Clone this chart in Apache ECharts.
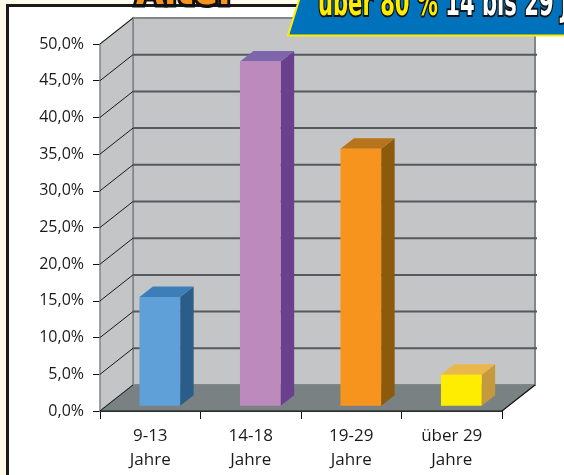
<!DOCTYPE html>
<html>
<head>
<meta charset="utf-8">
<script src="https://cdn.jsdelivr.net/npm/echarts@6/dist/echarts.min.js"></script>
<style>
html,body{margin:0;padding:0;background:#fffbea;}
#chart{width:564px;height:475px;}
</style>
</head>
<body>
<div id="chart"></div>
<script>
// ---- data ----
var categories = ['9-13\nJahre', '14-18\nJahre', '19-29\nJahre', 'über 29\nJahre'];
var values = [14.8, 46.9, 35.0, 4.2];
var yTicks = [0, 5, 10, 15, 20, 25, 30, 35, 40, 45, 50];
var titleText = 'Alter';
var bannerHighlight = 'über 80 %';
var bannerRest = ' 14 bis 29 Jahre';

var faceColors  = ['#5fa0d8', '#bc8abd', '#f7941d', '#ffed00'];
var sideColors  = ['#2a5d87', '#6a3f8e', '#8b5a0c', '#c59a3c'];
var topColors   = ['#3c7fb8', '#7f66aa', '#b8741a', '#eab84a'];

var DX = 33, DY = -26; // depth offset of the 3D box

var chart = echarts.init(document.getElementById('chart'), null, {renderer: 'canvas'});

function fmt(v){ return v.toFixed(1).replace('.', ',') + '%'; }

var heavy = 'bold 38px "DejaVu Sans", sans-serif';

var option = {
  backgroundColor: '#fffbea',
  animation: false,
  graphic: [
    {type: 'rect', z: -10, shape: {x: 7.5, y: 5.5, width: 600, height: 500},
     style: {fill: '#ffffff', stroke: '#1a1a1a', lineWidth: 3}},
    {type: 'text', z: 100, x: 136, y: -29, scaleX: 0.82,
     style: {text: titleText, fill: '#f7941d', stroke: '#111', lineWidth: 7,
             font: 'bold 44px "DejaVu Sans", sans-serif', verticalAlign: 'top'}},
    {type: 'polygon', z: 100,
     shape: {points: [[300, -3], [570, -3], [570, 35.5], [288, 35.5]]},
     style: {fill: '#0072bc', stroke: '#ffed00', lineWidth: 2}},
    {type: 'text', z: 101, x: 318, y: -14, scaleX: 0.555,
     style: {
       text: '{y|' + bannerHighlight + '}{w|' + bannerRest + '}',
       verticalAlign: 'top',
       rich: {
         y: {fill: '#ffed00', stroke: '#111', lineWidth: 4, font: heavy},
         w: {fill: '#ffffff', stroke: '#111', lineWidth: 4, font: heavy}
       }
     }}
  ],
  grid: {left: 100, top: 44, width: 402, height: 367},
  xAxis: {
    type: 'category', data: categories,
    axisLine: {show: true, lineStyle: {color: '#111', width: 1}},
    axisTick: {show: true, length: 8, lineStyle: {color: '#111'}},
    axisLabel: {color: '#1a1a1a', fontFamily: '"Open Sans", sans-serif', fontSize: 17,
                lineHeight: 24, margin: 13}
  },
  yAxis: {
    type: 'value', min: 0, max: 50, interval: 5,
    axisLine: {show: true, lineStyle: {color: '#111', width: 1}},
    axisTick: {show: true, length: 7, lineStyle: {color: '#111'}},
    splitLine: {show: false},
    axisLabel: {color: '#1a1a1a', fontFamily: '"Open Sans", sans-serif', fontSize: 16,
                margin: 16, formatter: function(v){ return fmt(v); }}
  },
  series: [
    {
      type: 'custom', z: 1,
      data: [[0, 0]],
      renderItem: function(params, api){
        var cs = params.coordSys;
        var x0 = cs.x, x1 = cs.x + cs.width, yb = cs.y + cs.height, yt = cs.y;
        var ch = [];
        ch.push({type: 'polygon', shape: {points: [[x0+DX, yt+DY], [x1+DX, yt+DY], [x1+DX, yb+DY], [x0+DX, yb+DY]]},
                 style: {fill: '#c4c5c7', stroke: '#7f8788', lineWidth: 2}});
        ch.push({type: 'polygon', shape: {points: [[x0, yb], [x0, yt], [x0+DX, yt+DY], [x0+DX, yb+DY]]},
                 style: {fill: '#c4c5c7', stroke: '#7f8788', lineWidth: 1.5}});
        ch.push({type: 'polygon', shape: {points: [[x0, yb], [x1, yb], [x1+DX, yb+DY], [x0+DX, yb+DY]]},
                 style: {fill: '#798183', stroke: '#7f8788', lineWidth: 1}});
        for (var i = 0; i < yTicks.length; i++) {
          var y = api.coord([0, yTicks[i]])[1];
          if (yTicks[i] > 0 && yTicks[i] < 50) {
            ch.push({type: 'line', shape: {x1: x0+DX, y1: y+DY, x2: x1+DX+2, y2: y+DY},
                     style: {stroke: '#55595b', lineWidth: 2}});
          }
          ch.push({type: 'line', shape: {x1: x0, y1: y, x2: x0+DX, y2: y+DY},
                   style: {stroke: '#1a1a1a', lineWidth: 1}});
        }
        ch.push({type: 'polyline', shape: {points: [[x0, yb], [x1, yb], [x1+DX, yb+DY]]},
                 style: {stroke: '#111', lineWidth: 1.2, fill: null}});
        return {type: 'group', children: ch};
      }
    },
    {
      type: 'custom', z: 3,
      data: values.map(function(v, i){ return [i, v]; }),
      renderItem: function(params, api){
        var i = api.value(0), v = api.value(1);
        var band = api.size([1, 0])[0];
        var top = api.coord([i, v]);
        var base = api.coord([i, 0]);
        var w = band * 0.405;
        var cx = top[0] + band * 0.095;
        var offY = -5.3;
        var xl = cx - w / 2, xr = cx + w / 2;
        var yTop = top[1] + offY, yBot = base[1] + offY;
        var sx = 13.5, sy = -10.5;
        return {type: 'group', children: [
          {type: 'polygon', shape: {points: [[xr, yTop], [xr + sx, yTop + sy], [xr + sx, yBot + sy], [xr, yBot]]},
           style: {fill: sideColors[i]}},
          {type: 'polygon', shape: {points: [[xl, yTop], [xr, yTop], [xr + sx, yTop + sy], [xl + sx, yTop + sy]]},
           style: {fill: topColors[i]}},
          {type: 'rect', shape: {x: xl, y: yTop, width: w, height: yBot - yTop},
           style: {fill: faceColors[i]}}
        ]};
      }
    }
  ]
};
chart.setOption(option);
</script>
</body>
</html>
